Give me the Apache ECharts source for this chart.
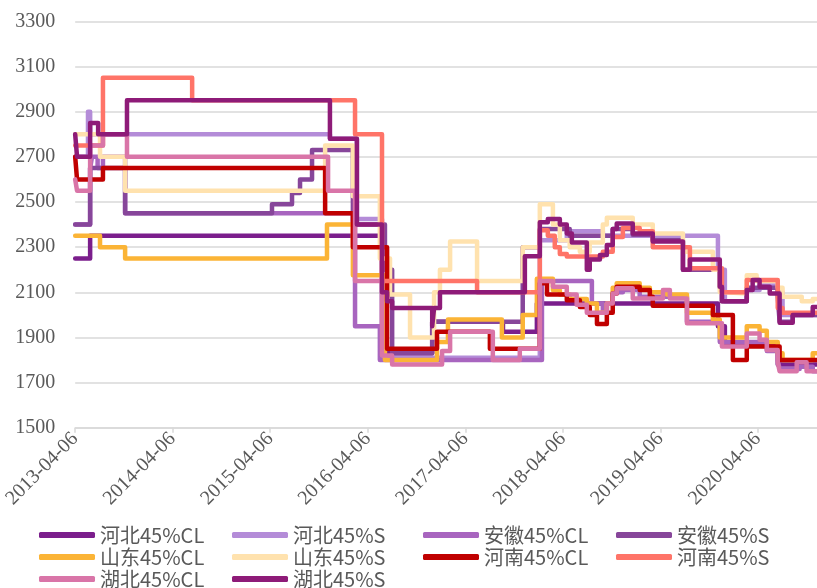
<!DOCTYPE html>
<html>
<head>
<meta charset="utf-8">
<script src="https://cdn.jsdelivr.net/npm/echarts@6/dist/echarts.min.js"></script>
<style>
html,body{margin:0;padding:0;background:#fff;}
#chart{width:817px;height:588px;}
</style>
</head>
<body>
<div id="chart"></div>
<script>
// ---------- data ----------
const START = '2013-04-06';
const END = '2020-11-13';
const tickLabels = ['2013-04-06','2014-04-06','2015-04-06','2016-04-06','2017-04-06','2018-04-06','2019-04-06','2020-04-06'];
const yTicks = [1500, 3300, 200];

const seriesNames = ['河北45%CL','河北45%S','安徽45%CL','安徽45%S','山东45%CL','山东45%S','河南45%CL','河南45%S','湖北45%CL','湖北45%S'];
const seriesColors = ['#7B1E8C','#B48CD8','#A865BF','#87469A','#FBB436','#FFE2AE','#C00000','#FF7468','#D975A8','#8E1B78'];

const hebeiCL = [['2013-04-06',2250],['2013-06-01',2350],['2016-05-29',1830],['2016-12-03',1970],['2017-08-25',1925],['2017-12-30',2050],['2019-11-08',1950],['2019-12-04',1870],['2020-06-19',1780]];
const hebeiS = [['2013-04-06',2700],['2013-05-24',2900],['2013-06-01',2800],['2015-11-16',2780],['2016-02-25',2425],['2016-05-29',1810],['2018-01-10',2330],['2018-04-21',2370],['2018-09-03',2350],['2019-11-08',2200],['2019-12-04',2060],['2020-02-24',2110],['2020-04-12',2130],['2020-06-19',2100],['2020-07-07',2000]];
const anhuiCL = [['2013-04-06',2400],['2013-06-01',2650],['2013-06-08',2700],['2013-06-29',2650],['2013-07-19',2700],['2013-10-10',2450],['2016-02-18',1950],['2016-05-21',1800],['2018-01-18',2150],['2018-07-24',2050],['2018-09-03',2010],['2018-09-18',2050],['2018-10-10',2100],['2018-11-17',2110],['2019-01-19',2080],['2019-07-15',1970],['2019-11-15',1880],['2020-05-09',1840],['2020-06-19',1800],['2020-06-26',1760],['2020-09-09',1770],['2020-10-28',1750]];
const anhuiS = [['2013-04-06',2400],['2013-06-01',2650],['2013-10-10',2450],['2015-04-13',2490],['2015-06-27',2540],['2015-07-27',2600],['2015-09-10',2730],['2016-02-10',2400],['2016-06-09',2200],['2016-07-06',1830],['2016-12-03',1970],['2017-11-07',2300],['2018-01-10',2380],['2018-05-02',2350],['2018-10-10',2380],['2018-12-24',2355],['2019-03-09',2330],['2019-06-30',2200],['2019-11-15',2120],['2019-11-23',2060],['2020-02-24',2120],['2020-06-19',2080],['2020-06-26',1970],['2020-08-14',2000]];
const shandongCL = [['2013-04-06',2350],['2013-07-08',2300],['2013-10-10',2250],['2015-11-05',2400],['2016-02-10',2175],['2016-06-09',1800],['2016-12-21',1880],['2017-01-31',1980],['2017-08-21',1900],['2017-11-07',2000],['2017-12-30',2160],['2018-02-28',2110],['2018-03-26',2090],['2018-05-02',2070],['2018-07-05',2050],['2018-08-12',2010],['2018-09-18',2050],['2018-10-10',2120],['2018-10-25',2140],['2019-01-19',2120],['2019-02-26',2100],['2019-05-01',2090],['2019-07-15',2010],['2019-10-20',1980],['2019-11-15',1900],['2020-02-24',1950],['2020-04-12',1930],['2020-05-09',1880],['2020-06-19',1830],['2020-07-07',1800],['2020-10-28',1830]];
const shandongS = [['2013-04-06',2800],['2013-07-08',2700],['2013-10-10',2550],['2015-10-29',2750],['2016-02-10',2525],['2016-05-21',2250],['2016-06-28',2090],['2016-09-11',1900],['2016-12-10',2100],['2017-01-01',2200],['2017-02-08',2325],['2017-05-20',2150],['2017-11-07',2300],['2018-01-10',2490],['2018-02-28',2400],['2018-03-26',2330],['2018-05-02',2300],['2018-06-09',2280],['2018-07-16',2320],['2018-09-03',2400],['2018-09-18',2430],['2018-12-24',2400],['2019-03-09',2360],['2019-06-30',2280],['2019-10-20',2200],['2019-11-15',2100],['2019-12-04',2095],['2020-02-24',2175],['2020-04-01',2150],['2020-06-19',2120],['2020-07-07',2080],['2020-09-17',2060],['2020-10-28',2070]];
const henanCL = [['2013-04-06',2700],['2013-04-13',2600],['2013-07-19',2650],['2015-10-29',2450],['2016-02-10',2300],['2016-06-17',1850],['2016-12-21',1925],['2017-07-07',1850],['2018-01-10',2140],['2018-02-06',2090],['2018-04-21',2065],['2018-06-09',2035],['2018-07-16',2000],['2018-08-12',1960],['2018-09-18',2010],['2018-10-10',2095],['2018-10-25',2125],['2019-01-19',2110],['2019-02-26',2080],['2019-03-09',2040],['2019-10-20',2000],['2020-01-03',1800],['2020-02-24',1860],['2020-06-26',1800]];
const henanS = [['2013-04-06',2750],['2013-07-19',3050],['2014-06-18',2950],['2016-02-18',2800],['2016-05-29',2150],['2017-05-20',2100],['2018-01-10',2375],['2018-02-09',2350],['2018-03-07',2300],['2018-03-26',2270],['2018-04-21',2258],['2018-09-03',2280],['2018-10-10',2345],['2018-11-17',2385],['2019-01-19',2370],['2019-03-09',2300],['2019-07-26',2206],['2019-11-23',2100],['2020-02-24',2155],['2020-06-19',2030],['2020-07-07',2010]];
const hubeiCL = [['2013-04-06',2600],['2013-04-13',2550],['2013-06-01',2750],['2013-07-19',2800],['2013-10-17',2700],['2015-11-09',2550],['2016-02-18',2150],['2016-05-29',1820],['2016-07-06',1780],['2017-01-09',1840],['2017-02-08',1925],['2017-07-18',1800],['2017-10-27',1850],['2018-01-10',2150],['2018-02-28',2125],['2018-04-21',2090],['2018-05-28',2045],['2018-07-05',2010],['2018-09-18',2050],['2018-10-10',2095],['2018-10-25',2118],['2018-12-24',2073],['2019-04-16',2110],['2019-05-12',2073],['2019-07-15',1963],['2019-11-23',1860],['2020-02-24',1918],['2020-04-12',1890],['2020-05-09',1845],['2020-06-19',1790],['2020-06-26',1750],['2020-08-29',1790],['2020-10-05',1750]];
const hubeiS = [['2013-04-06',2800],['2013-04-13',2700],['2013-06-01',2850],['2013-07-01',2800],['2013-10-17',2950],['2015-11-16',2780],['2016-02-25',2400],['2016-05-29',2100],['2016-06-17',2060],['2016-07-06',2030],['2016-12-03',1950],['2016-12-10',2030],['2017-01-01',2100],['2017-11-15',2260],['2018-01-10',2410],['2018-02-09',2425],['2018-03-26',2400],['2018-04-21',2360],['2018-05-10',2320],['2018-07-05',2200],['2018-07-16',2245],['2018-08-23',2265],['2018-09-18',2310],['2018-10-10',2380],['2018-10-25',2405],['2018-12-24',2360],['2019-03-09',2325],['2019-06-30',2200],['2019-07-26',2245],['2019-11-15',2125],['2019-11-23',2060],['2020-02-24',2110],['2020-03-17',2155],['2020-04-12',2125],['2020-05-20',2095],['2020-06-26',1965],['2020-08-14',2000],['2020-10-28',2035]];

const seriesData = [hebeiCL, hebeiS, anhuiCL, anhuiS, shandongCL, shandongS, henanCL, henanS, hubeiCL, hubeiS];
const legendColumns = [[0,4,8],[1,5,9],[2,6],[3,7]];

// ---------- build ----------
const DAY = 86400000, YEAR = 365.25 * DAY;
const t0 = Date.parse(START);
const toX = d => (Date.parse(d) - t0) / YEAR;
const xMax = toX(END);
const SERIF = 'Liberation Serif, Times New Roman, serif';

const series = seriesNames.map((name, i) => {
  const pts = seriesData[i].map(p => [toX(p[0]), p[1]]);
  pts.push([xMax, seriesData[i][seriesData[i].length - 1][1]]);
  return {
    name, type: 'line', step: 'end', data: pts, showSymbol: false, symbol: 'none',
    lineStyle: { color: seriesColors[i], width: 4.5, join: 'round', cap: 'round' },
    itemStyle: { color: seriesColors[i] },
    animation: false, silent: true
  };
});

const colLeft = [39, 232, 423, 616];
const legends = legendColumns.map((col, c) => ({
  orient: 'vertical', left: colLeft[c], top: 525, width: 190, height: 90, itemGap: 2,
  itemWidth: 56, itemHeight: 6, icon: 'roundRect',
  data: col.map(i => seriesNames[i]),
  textStyle: { fontFamily: 'Noto Sans CJK SC', fontSize: 20, lineHeight: 18, color: '#595959', padding: [0,0,0,0] },
  padding: 0, selectedMode: false
}));

const chart = echarts.init(document.getElementById('chart'), null, { renderer: 'canvas' });
chart.setOption({
  backgroundColor: '#ffffff',
  animation: false,
  grid: { left: 75, right: 0, top: 21.3, bottom: 160.2, containLabel: false },
  legend: legends,
  xAxis: {
    type: 'value', min: 0, max: xMax, interval: 1,
    axisLine: { show: true, lineStyle: { color: '#d9d9d9', width: 1.5 } },
    axisTick: { show: true, length: 5, lineStyle: { color: '#d9d9d9', width: 1.5 } },
    splitLine: { show: false },
    axisLabel: {
      rotate: 45, margin: 8, showMaxLabel: false,
      fontFamily: SERIF, fontSize: 20, color: '#595959',
      formatter: v => { const k = Math.round(v); return Math.abs(v - k) < 1e-6 && tickLabels[k] ? tickLabels[k] : ''; }
    }
  },
  yAxis: {
    type: 'value', min: yTicks[0], max: yTicks[1], interval: yTicks[2],
    axisLine: { show: false }, axisTick: { show: false },
    splitLine: { lineStyle: { color: '#d9d9d9', width: 1.5 } },
    axisLabel: { margin: 20, fontFamily: SERIF, fontSize: 20, color: '#595959', formatter: v => String(v) }
  },
  series
});
</script>
</body>
</html>
